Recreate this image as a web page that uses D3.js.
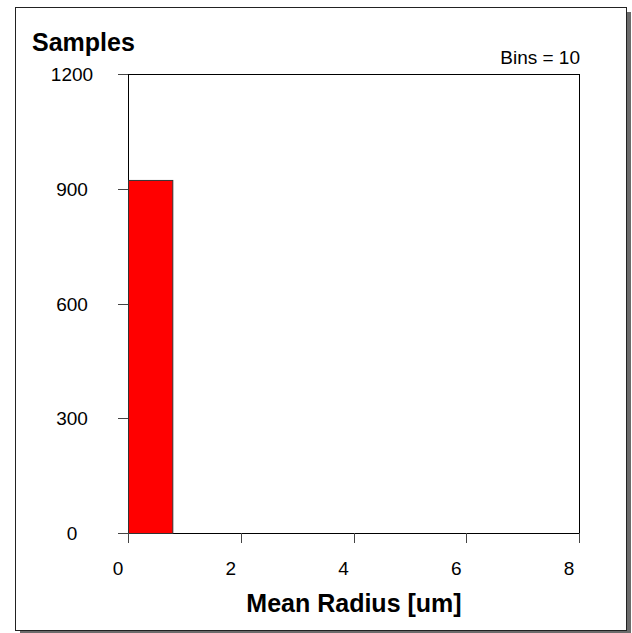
<!DOCTYPE html>
<html>
<head>
<meta charset="utf-8">
<script src="https://cdn.jsdelivr.net/npm/d3@7"></script>
<style>
  body { margin: 0; background: #fff; }
  svg text { font-family: "Liberation Sans", Arial, sans-serif; fill: #000; }
</style>
</head>
<body>
<div id="chart"></div>
<script>
// histogram data
const binEdges = [0, 0.786, 1.572, 2.358, 3.144, 3.93, 4.716, 5.502, 6.288, 7.074, 7.86];
const binCounts = [923, 0, 0, 0, 0, 0, 0, 0, 0, 0];
const xTicks = [0, 2, 4, 6, 8];
const yTicks = [0, 300, 600, 900, 1200];
const binLabel = "Bins = 10";
const yTitle = "Samples";
const xTitle = "Mean Radius [um]";

const width = 632, height = 633;
const plot = {left: 128, top: 74, right: 579, bottom: 533};

const svg = d3.select("#chart").append("svg")
    .attr("width", width)
    .attr("height", height);

// outer frame with drop shadow
svg.append("rect")
    .attr("x", 20).attr("y", 12)
    .attr("width", 611).attr("height", 621)
    .style("fill", "#6b6b6b");
svg.append("rect")
    .attr("x", 15.5).attr("y", 7.5)
    .attr("width", 611).attr("height", 623)
    .style("fill", "#fff")
    .style("stroke", "#222")
    .style("stroke-width", 1);

const xScale = d3.scaleLinear().domain([0, 8]).range([plot.left, plot.right]);
const yScale = d3.scaleLinear().domain([0, 1200]).range([plot.bottom, plot.top]);

// plot box
svg.append("rect")
    .attr("x", plot.left + 0.5).attr("y", plot.top + 0.5)
    .attr("width", plot.right - plot.left).attr("height", plot.bottom - plot.top)
    .style("fill", "#fff")
    .style("stroke", "#000")
    .style("stroke-width", 1);

// bars
const bins = binCounts.map((c, i) => ({x0: binEdges[i], x1: binEdges[i + 1], count: c}));
svg.append("g").selectAll("rect")
    .data(bins.filter(d => d.count > 0))
    .enter().append("rect")
    .attr("x", d => xScale(d.x0) + 0.5)
    .attr("y", d => yScale(d.count) + 0.5)
    .attr("width", d => xScale(d.x1) - xScale(d.x0))
    .attr("height", d => yScale(0) - yScale(d.count))
    .style("fill", "#ff0000")
    .style("stroke", "#333")
    .style("stroke-width", 1);

// y axis ticks + labels
const yAxis = svg.append("g");
yAxis.selectAll("line").data(yTicks).enter().append("line")
    .attr("x1", plot.left - 10).attr("x2", plot.left)
    .attr("y1", d => Math.round(yScale(d)) + 0.5)
    .attr("y2", d => Math.round(yScale(d)) + 0.5)
    .style("stroke", "#444");
yAxis.selectAll("text").data(yTicks).enter().append("text")
    .attr("x", 72)
    .attr("y", d => yScale(d) + 7)
    .attr("text-anchor", "middle")
    .style("font-size", "19px")
    .text(d => d);

// x axis ticks + labels
const xAxis = svg.append("g");
xAxis.selectAll("line").data(xTicks).enter().append("line")
    .attr("x1", d => Math.round(xScale(d)) + 0.5)
    .attr("x2", d => Math.round(xScale(d)) + 0.5)
    .attr("y1", plot.bottom).attr("y2", plot.bottom + 10)
    .style("stroke", "#444");
xAxis.selectAll("text").data(xTicks).enter().append("text")
    .attr("x", d => xScale(d) - 10)
    .attr("y", 575)
    .attr("text-anchor", "middle")
    .style("font-size", "19px")
    .text(d => d);

// titles
svg.append("text")
    .attr("x", 32).attr("y", 51)
    .style("font-size", "25px")
    .style("font-weight", "bold")
    .text(yTitle);
svg.append("text")
    .attr("x", 354).attr("y", 612)
    .attr("text-anchor", "middle")
    .style("font-size", "25px")
    .style("font-weight", "bold")
    .text(xTitle);
svg.append("text")
    .attr("x", 580).attr("y", 64)
    .attr("text-anchor", "end")
    .style("font-size", "19px")
    .text(binLabel);
</script>
</body>
</html>
